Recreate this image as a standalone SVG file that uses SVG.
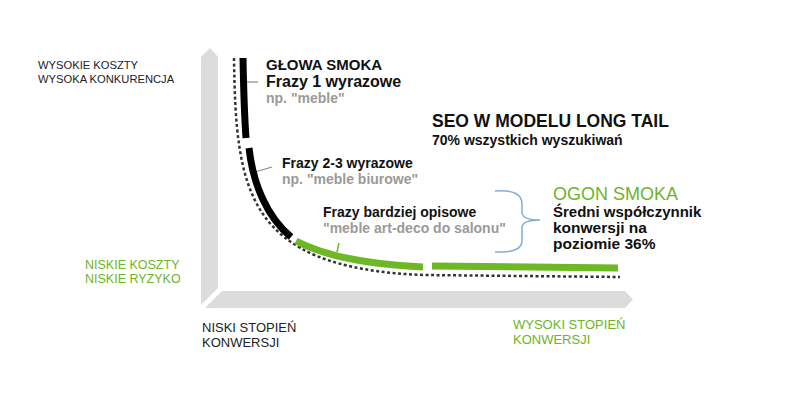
<svg xmlns="http://www.w3.org/2000/svg" width="800" height="400" viewBox="0 0 800 400">
<style>
text{font-family:"Liberation Sans",Arial,sans-serif}
.ax{fill:#dcdcdc}
.lbl{font-size:11.2px;fill:#222}
.gl{fill:#6cb42a}
.bk{fill:#111;font-weight:bold}
.gy{fill:#9a9a9a;font-weight:bold}
.dot{fill:none;stroke:#333;stroke-width:2.5;stroke-dasharray:3 2.5}
.thk{fill:none;stroke:#000;stroke-width:7}
.grn{fill:none;stroke:#6eb826;stroke-width:7}
.lead{stroke:#888;stroke-width:1.2;fill:none}
</style>
<rect width="800" height="400" fill="#fff"/>
<g id="axes">
<polygon class="ax" points="201,305 201,57 210,48 218,57 218,288"/>
<polygon class="ax" points="205,308 222,291 625,291 633,299.5 625,308"/>
</g>
<g id="connectors">
<path class="dot" d="M234,58 C236,190 245,268 423,275 L620,277"/>
<path class="lead" d="M247,82 L258,82"/>
<path class="lead" d="M255,172 L272,167"/>
<path d="M337,252 L339,243" stroke="#6eb826" stroke-width="1.5" fill="none"/>
<path d="M495,191 Q523,189 522,205 L522,213 Q523,220 540,220 Q523,220 522,227 L522,240 Q523,253 495,252" fill="none" stroke="#86acd6" stroke-width="1.5"/>
</g>
<g id="curve">
<path class="thk" d="M243,58 Q244,110 246,138"/>
<path class="thk" d="M249,148 C253,184 267,217 291,237"/>
<path class="grn" d="M296,241 Q338,263 423,267"/>
<path class="grn" d="M432,266 L618,268"/>
</g>
<g id="y-top">
<text class="lbl" x="38" y="69">WYSOKIE KOSZTY</text>
<text class="lbl" x="38" y="82.5">WYSOKA KONKURENCJA</text>
</g>
<g id="y-bottom">
<text class="gl" x="85" y="269" font-size="12.5">NISKIE KOSZTY</text>
<text class="gl" x="85" y="283" font-size="12.5">NISKIE RYZYKO</text>
</g>
<g id="x-left">
<text x="202" y="332" font-size="13" fill="#222">NISKI STOPIEŃ</text>
<text x="202" y="347" font-size="13" fill="#222">KONWERSJI</text>
</g>
<g id="x-right">
<text class="gl" x="513" y="329" font-size="13">WYSOKI STOPIEŃ</text>
<text class="gl" x="513" y="344" font-size="13">KONWERSJI</text>
</g>
<g id="head">
<text class="bk" x="266" y="70" font-size="15">GŁOWA SMOKA</text>
<text class="bk" x="266" y="87" font-size="16">Frazy 1 wyrazowe</text>
<text class="gy" x="266" y="103" font-size="14">np. "meble"</text>
</g>
<g id="mid">
<text class="bk" x="282" y="168" font-size="14">Frazy 2-3 wyrazowe</text>
<text class="gy" x="282" y="184" font-size="14">np. "meble biurowe"</text>
</g>
<g id="tail-phrases">
<text class="bk" x="323" y="217" font-size="14">Frazy bardziej opisowe</text>
<text class="gy" x="323" y="233" font-size="14">"meble art-deco do salonu"</text>
</g>
<g id="title">
<text class="bk" x="432" y="127" font-size="17.5">SEO W MODELU LONG TAIL</text>
<text class="bk" x="432" y="145" font-size="14">70% wszystkich wyszukiwań</text>
</g>
<g id="tail">
<text class="gl" x="553" y="200" font-size="18">OGON SMOKA</text>
<text class="bk" x="553" y="217" font-size="15">Średni współczynnik</text>
<text class="bk" x="553" y="233" font-size="15.5">konwersji na</text>
<text class="bk" x="553" y="249" font-size="15.5">poziomie 36%</text>
</g>
</svg>
